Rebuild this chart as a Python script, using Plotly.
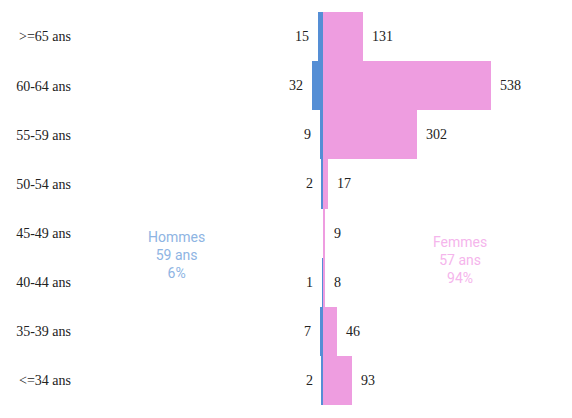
import plotly.graph_objects as go

categories = [">=65 ans", "60-64 ans", "55-59 ans", "50-54 ans", "45-49 ans", "40-44 ans", "35-39 ans", "<=34 ans"]
hommes = [15, 32, 9, 2, 0, 1, 7, 2]
femmes = [131, 538, 302, 17, 9, 8, 46, 93]

BLUE = "#558ED5"
PINK = "#EE9DE0"
SERIF = "Liberation Serif"

fig = go.Figure()
fig.add_trace(go.Bar(y=categories, x=[-v for v in hommes], orientation="h",
                     marker=dict(color=BLUE, line=dict(width=0)), name="Hommes",
                     hoverinfo="skip"))
fig.add_trace(go.Bar(y=categories, x=femmes, orientation="h",
                     marker=dict(color=PINK, line=dict(width=0)), name="Femmes",
                     hoverinfo="skip"))

for c, h, f in zip(categories, hommes, femmes):
    if h:
        fig.add_annotation(x=-h, y=c, text=str(h), showarrow=False, xanchor="right",
                           xshift=-7, font=dict(family=SERIF, size=14, color="#222"))
    if f:
        fig.add_annotation(x=f, y=c, text=str(f), showarrow=False, xanchor="left",
                           xshift=7, font=dict(family=SERIF, size=14, color="#222"))

fig.add_annotation(x=-467, yref="paper", y=(405 - 255) / 393,
                   text="Hommes<br>59 ans<br>6%", showarrow=False,
                   font=dict(family="Roboto", size=14, color="#8EB4E3"))
fig.add_annotation(x=440, yref="paper", y=(405 - 260) / 393,
                   text="Femmes<br>57 ans<br>94%", showarrow=False,
                   font=dict(family="Roboto", size=14, color="#F5B5EC"))

fig.update_layout(
    width=572, height=418,
    margin=dict(l=80, r=7, t=12, b=13),
    barmode="relative", bargap=0,
    showlegend=False,
    plot_bgcolor="white", paper_bgcolor="white",
    xaxis=dict(range=[-775, 775], visible=False, showgrid=False, zeroline=False, fixedrange=True),
    yaxis=dict(categoryorder="array", categoryarray=categories[::-1],
               showgrid=False, zeroline=False, showline=False, ticks="",
               ticklabelstandoff=8,
               tickfont=dict(family=SERIF, size=14, color="#222")),
)

fig.write_html("out.html")
